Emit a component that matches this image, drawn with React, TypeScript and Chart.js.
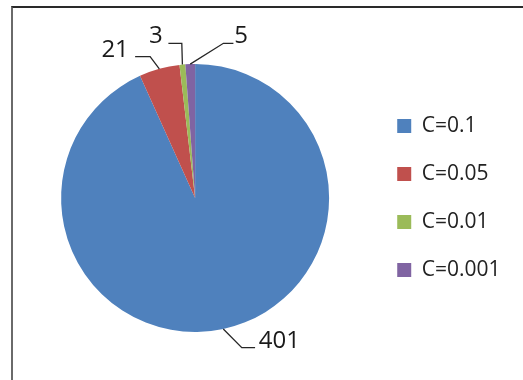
import React, { useEffect, useRef } from "react";
import { Chart, registerables } from "chart.js";

Chart.register(...registerables);

const categories = ["C=0.1", "C=0.05", "C=0.01", "C=0.001"];
const counts = [401, 21, 3, 5];
const sliceColors = ["#4F81BD", "#C0504D", "#9BBB59", "#8064A2"];

// leader-line layout per slice, relative to the slice's outer mid-point
const leaderLayout = [
  { elbow: [18.5, 18.7], end: [31.8, 18.7], text: [35.5, 19.2], align: "left" },
  { elbow: [-9.2, -12.2], end: [-24.2, -12.2], text: [-30.5, -11.8], align: "right" },
  { elbow: [-0.6, -21.3], end: [-14, -21.3], text: [-19.8, -21.3], align: "right" },
  { elbow: [33.2, -20.8], end: [43.2, -20.8], text: [44, -20.8], align: "left" },
];

const FONT = "'Open Sans', 'Liberation Sans', sans-serif";

const outsideLabels = {
  id: "outsideLabels",
  afterDatasetsDraw(chart: any) {
    const ctx = chart.ctx;
    const meta = chart.getDatasetMeta(0);
    const values = chart.data.datasets[0].data as number[];
    meta.data.forEach((arc: any, i: number) => {
      const p = arc.getProps(["x", "y", "startAngle", "endAngle", "outerRadius"], true);
      const mid = (p.startAngle + p.endAngle) / 2;
      const ex = p.x + Math.cos(mid) * p.outerRadius;
      const ey = p.y + Math.sin(mid) * p.outerRadius;
      const L = leaderLayout[i];
      ctx.save();
      ctx.strokeStyle = "#262626";
      ctx.lineWidth = 1.3;
      ctx.beginPath();
      ctx.moveTo(ex, ey);
      ctx.lineTo(ex + L.elbow[0], ey + L.elbow[1]);
      ctx.lineTo(ex + L.end[0], ey + L.end[1]);
      ctx.stroke();
      ctx.fillStyle = "#1a1a1a";
      ctx.font = `24px ${FONT}`;
      ctx.textAlign = L.align as CanvasTextAlign;
      ctx.textBaseline = "alphabetic";
      ctx.fillText(String(values[i]), ex + L.text[0], ey + L.text[1]);
      ctx.restore();
    });
  },
};

export default function App() {
  const ref = useRef<HTMLCanvasElement | null>(null);
  useEffect(() => {
    if (!ref.current) return;
    const chart = new Chart(ref.current, {
      type: "pie",
      data: {
        labels: categories,
        datasets: [
          {
            data: counts,
            backgroundColor: sliceColors,
            borderWidth: 0,
            hoverBorderWidth: 0,
            hoverOffset: 0,
          },
        ],
      },
      options: {
        responsive: false,
        animation: false,
        devicePixelRatio: 1,
        layout: { padding: { left: 20, right: 12.5, top: 64, bottom: 48 } },
        plugins: {
          tooltip: { enabled: false },
          legend: {
            position: "right",
            labels: {
              boxWidth: 14,
              boxHeight: 14,
              padding: 27,
              color: "#222",
              font: { family: FONT, size: 21 },
            },
          },
        },
      },
      plugins: [outsideLabels],
    });
    return () => chart.destroy();
  }, []);
  return (
    <div
      style={{
        position: "fixed",
        left: 0,
        top: 0,
        width: 523,
        height: 380,
        background: "#fff",
        overflow: "hidden",
      }}
    >
      <canvas
        ref={ref}
        width={523}
        height={380}
        style={{ position: "absolute", left: 0, top: 0, width: 523, height: 380 }}
      />
      <div
        style={{
          position: "absolute",
          left: 11,
          top: 6,
          width: 700,
          height: 700,
          borderTop: "2px solid #2a2a2a",
          borderLeft: "2px solid #6a6a6a",
          pointerEvents: "none",
        }}
      />
    </div>
  );
}
